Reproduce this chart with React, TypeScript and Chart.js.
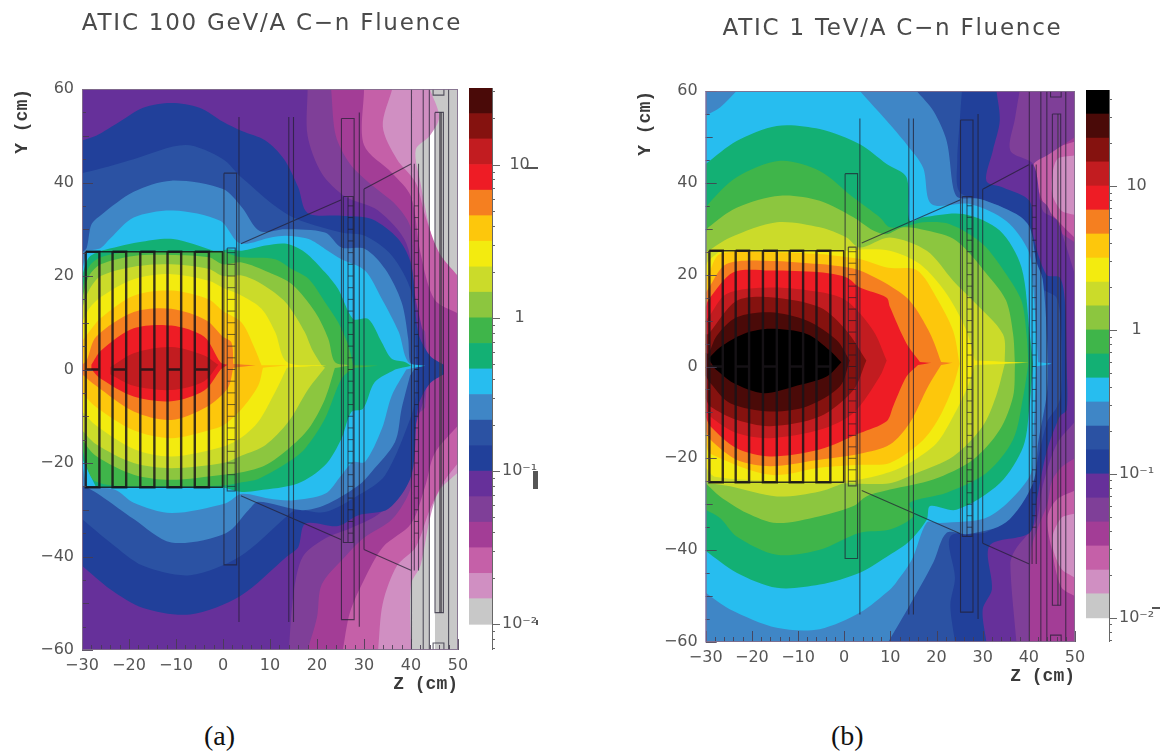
import React, { useEffect, useRef } from "react";
import Chart from "chart.js/auto";

// Colour bands of the fluence scale, from the highest band to the lowest
const bandColors = ["#000000","#4a0a08","#85120f","#c21c20","#ee1c25","#f57f20","#fdc70c","#f3eb0f","#cbdb2a","#8cc63f","#3fb54a","#13b074","#27bdef","#3f86c6","#2b52a3","#21409a","#66309a","#7f3f98","#a33d96","#c560a8","#d08fc2","#c8c8c8"];
const bandEdgesA = [0.01,0.0147,0.0215,0.0316,0.0464,0.0681,0.1,0.147,0.215,0.316,0.464,0.681,1,1.47,2.15,3.16,4.64,6.81,10,14.7,21.5,31.6];
const bandEdgesB = [0.01,0.0147,0.0215,0.0316,0.0464,0.0681,0.1,0.147,0.215,0.316,0.464,0.681,1,1.47,2.15,3.16,4.64,6.81,10,14.7,21.5,31.6,46.4];
const colorbarTicks = [0.007,0.008,0.009,0.01,0.02,0.03,0.04,0.05,0.06,0.07,0.08,0.09,0.1,0.2,0.3,0.4,0.5,0.6,0.7,0.8,0.9,1,2,3,4,5,6,7,8,9,10,20,30,40];
const colorbarLabels: Record<string,string> = { "0.01":"10\u207B\u00B2", "0.1":"10\u207B\u00B9", "1":"1", "10":"10" };

// Panel (a): contour outline [z, y] in cm of each colour band
const aBase = [[-30,60],[50,60],[50,-60],[-30,-60]];
const aWhite1 = [[44,52],[45.1,52],[45.1,24],[44,24]];
const aWhite2 = [[44,-26],[45.1,-26],[45.1,-60],[44,-60]];
const a20 = [[-30,60],[44,60],[46,54],[44,50],[41,47],[42,40],[44,30],[46,22],[50,20],[50,-22],[46,-26],[44,-32],[42,-42],[40,-46],[40,-60],[-30,-60]];
const a19 = [[-30,60],[36,60],[34,52],[37,45],[41,40],[43,33],[46,25],[50,20],[50,-20],[47,-24],[44,-30],[41,-38],[37,-42],[34,-50],[33,-60],[-30,-60]];
const a18 = [[-30,60],[30,60],[30,48],[36,42],[40,37],[42,25],[45,15],[50,12],[50,-12],[45,-18],[43,-25],[40,-33],[34,-38],[30,-45],[27,-52],[25.5,-60],[-30,-60]];
const a17 = [[-30,60],[23,60],[24,50],[27,44],[31,40],[37,35],[40,30],[41,10],[43,8],[43,-8],[41,-10],[40,-25],[36,-32],[30,-36],[26,-40],[21,-46],[20,-53],[18,-60],[-30,-60]];
const a16 = [[-30,60],[18,60],[18,50],[21,42],[26,37],[33,34],[39,27],[41,15],[43,5],[43,-5],[41,-12],[39,-25],[33,-31],[27,-34],[22,-36],[17,-40],[15,-48],[14,-60],[-30,-60]];
const a15 = [[-30,49],[-27,50],[-22,53],[-17,56],[-11,57],[-5,56],[0,53],[4,51],[9,49],[13,45],[16,39],[18,33.5],[25.2,32.9],[31.6,32.2],[37.3,27.9],[40.1,22.2],[41.5,8],[44,3],[47,1],[47,-1],[44,-3],[41.5,-8],[40.1,-22.6],[35.2,-29.8],[28.8,-31.2],[24.5,-33.5],[17.5,-33],[16,-38],[13.6,-40],[3.6,-48.5],[-7,-52.4],[-17,-51],[-24,-47],[-30,-42]];
const a14 = [[-30,42],[-26,43],[-19,45],[-8,48],[0,45],[4,41],[14,33],[25.2,29.3],[30.2,28.6],[35.9,24.4],[40.1,16.5],[41,5],[41,-5],[40.1,-9.8],[34.5,-22.6],[28.8,-26.9],[21.7,-30.5],[15.7,-30],[13.6,-31.4],[3.6,-40],[-7,-44],[-17,-42],[-24,-37],[-30,-32]];
const a13 = [[-30,25],[-29,26],[-28,31],[-26,33],[-19,38],[-11,40.4],[0,38.6],[4,34.7],[7.8,29.6],[13.2,30],[21.7,29.3],[25.2,26.1],[30.2,25.8],[34.5,21.5],[38,14.4],[39.4,6.6],[39.8,1.6],[41,0.6],[39.8,-1.3],[38,-8.4],[36.6,-15.5],[31.6,-21.9],[28.8,-24.8],[21.7,-29],[16.8,-30.1],[7.5,-28.3],[5.5,-30],[0.6,-35],[-11,-37],[-19,-32],[-26,-27],[-29,-25.2],[-30,-25]];
const a12 = [[-30,21],[-29,25.4],[-26,26],[-24,28],[-19,32.5],[-10.6,34],[-0.6,31.8],[3.6,27],[10.4,28.3],[13.5,28.6],[18.2,27.9],[21.7,25.8],[25.2,23.6],[30.2,21.2],[33.8,15.1],[37.4,8],[39.4,1.6],[43,0.8],[39,0],[35.9,-5.6],[33.8,-12.7],[30.2,-19.8],[27.7,-19.8],[25.2,-22.6],[21.7,-26.6],[14.6,-28],[9.7,-27.6],[4,-26.6],[0.6,-28.6],[-11,-30.7],[-19,-28.5],[-23,-25.7],[-29,-25.2],[-30,-20]];
const a11 = [[-30,20],[-28.5,24],[-26,25.4],[-18,27.2],[-10.6,27.9],[-2,25.4],[0,25.4],[1,25.7],[4,25.4],[9,26.5],[13.5,26.9],[17.4,25.1],[21.7,20.8],[24.5,17.2],[27.7,10.8],[30.9,10.8],[33.8,5.8],[35.9,2.3],[38.7,1.6],[40,0.8],[36.6,0],[32.3,-2.7],[29.8,-8.4],[27.3,-9.1],[25.2,-14.8],[21.7,-20.5],[15.9,-24.4],[7.5,-25.9],[4,-26.2],[0,-25.2],[-27,-25.2],[-30,-19]];
const a10 = [[-30,17],[-28.5,22],[-26,24],[-20,25.3],[0,25.3],[2,24.5],[4,24],[11.1,23.6],[14.6,21.5],[18.2,19.4],[21.7,14.4],[24.5,10.1],[26.7,5.1],[27.7,0.9],[33,0.8],[27.7,0.3],[25.2,-2],[21.7,-10.5],[17.4,-17],[13.9,-19.8],[7.5,-23.4],[4,-24.1],[0,-24.8],[-11,-25],[-27,-24],[-30,-17]];
const a9 = [[-30,15],[-28.5,20],[-26,22.5],[-19,24.3],[-11,24.5],[-3,24],[0,22.5],[4,22.9],[9.7,20.8],[14.6,18.3],[19.6,12.3],[22.4,6.6],[23.8,1.6],[27,0.9],[23.8,0.3],[21.7,-6.3],[18.2,-12.7],[13.9,-17],[9,-20.5],[4,-22],[0,-22.5],[-11,-23.6],[-19,-22.5],[-27,-18.5],[-30,-15]];
const a8 = [[-30,13],[-28.5,17],[-26,20],[-19,22],[-11,22.5],[-3,21.5],[0,20],[4,20.1],[7.5,18.7],[11.8,15.8],[13.9,13.7],[17.4,8],[18.9,4.4],[21,0.9],[21.7,0.4],[18.2,-4.1],[13.9,-11.2],[9,-16.2],[4,-18.4],[0,-20],[-11,-21.1],[-19,-20],[-27,-16],[-30,-13]];
const a7 = [[-30,10],[-28.5,13],[-26,15.5],[-19,19.3],[-11,20.4],[-3,19],[0,17.5],[4,15.8],[8.2,13],[11.1,8],[13.6,1.6],[22,0.9],[13.6,0.4],[11.1,-4.8],[7.5,-11.2],[4,-14.5],[0,-16.5],[-11,-18.6],[-19,-17],[-27,-12],[-30,-9]];
const a6 = [[-30,6],[-28.5,8],[-26,11],[-19,15.8],[-11,16.9],[-3,15],[0,12.5],[4,10],[6.8,4.4],[8.2,0.9],[14,0.9],[8.5,0.4],[7.5,-3.4],[4,-8.4],[0,-12],[-3,-13],[-11,-14.7],[-19,-13],[-27,-8],[-30,-5]];
const a5 = [[-30,1],[-29,2],[-27,7],[-19,12.3],[-11,13],[-3.5,10.5],[0,7],[1.8,5.8],[2.2,1.2],[7,0.9],[2.2,0.4],[1,-4],[-3.5,-8],[-11,-10.8],[-19,-9],[-27,-3.5],[-30,-1]];
const a4 = [[-28,1],[-26,4],[-19,8.8],[-11,9.4],[-4,7],[-0.5,1.5],[1,1],[-0.5,0],[-4,-4.5],[-11,-6.8],[-19,-5.8],[-26,-2],[-28,0]];
const a3 = [[-24,0.5],[-19,3.5],[-11,4.8],[-4,3],[-1,1],[-4,-2.5],[-11,-4.4],[-19,-3.5],[-24,-1]];

// Panel (b): contour outline [z, y] in cm of each colour band
const bBase = [[-30,60],[50,60],[50,-60],[-30,-60]];
const b19 = [[-30,60],[50,60],[50,46],[46,45],[45,38],[47,34],[50,33],[50,-32],[47,-33],[45,-38],[47,-44],[50,-46],[50,-60],[-30,-60]];
const b18 = [[-30,60],[50,60],[50,49],[44,47],[41,45],[43,36],[47,31],[50,28],[50,-27],[46,-29],[44,-33],[45,-40],[47,-48],[50,-50],[50,-60],[-30,-60]];
const b17 = [[-30,60],[50,60],[50,50],[44,46],[41,44],[40.5,38],[44,35],[46,30],[50,27],[50,-20],[47,-22],[45,-25],[44,-30],[42,-35],[40.5,-40],[40,-60],[-30,-60]];
const b16 = [[-30,60],[38,60],[37,54],[36,47],[41,44],[43,34],[46,32],[47.5,28],[50,20],[50,-12],[46,-17],[43,-26],[41.5,-34],[37,-40],[36,-43],[37.3,-60],[-30,-60]];
const b15 = [[-30,60],[33,60],[33.7,53.5],[32.2,47],[30.8,40.4],[34.4,39],[40.2,36],[40.9,28.8],[43.8,20],[46.7,19.4],[47.8,14.3],[48.2,0.6],[48.2,-9.4],[46.7,-10.9],[43.8,-18.8],[41.6,-29.7],[40.2,-36.2],[31.5,-39],[32,-48.5],[30,-52.9],[30.8,-60],[-30,-60]];
const b14 = [[-30,60],[25.5,60],[25,53],[24.5,45],[25,38],[31,36],[37,33],[40,28],[41,24],[43,17],[46,15],[47,8],[47,-6],[46,-9],[44,-12],[41,-24],[39,-29],[31,-36],[23,-37],[24,-46],[23,-52],[24,-60],[-30,-60]];
const b13 = [[-30,60],[15.7,60],[19.3,55.7],[22.2,49.1],[23.6,39],[24.7,36.8],[29.4,36.5],[37.3,33.2],[40.2,30.3],[41.6,23],[43,19],[44,5],[44,-5],[42,-16.7],[40.9,-25.4],[35,-34],[27,-36.5],[22.2,-36.2],[19.3,-42.7],[14.2,-52],[9.9,-59.4],[9.5,-60],[-30,-60]];
const b12 = [[-30,54.6],[-26.9,56.4],[-23.3,60],[3.4,60],[9.2,53.5],[13.5,48.4],[17.1,43.3],[18.9,35.4],[27.2,35.4],[35.1,31.7],[39.9,25.2],[40.9,18],[41.6,7],[42,0.9],[45,0.6],[41.6,0],[40.9,-16.7],[40.2,-23.9],[31.5,-32.6],[20.7,-34.1],[17.9,-34],[14.7,-42],[11.3,-47],[9.9,-48.6],[3.4,-53.6],[-5.3,-57.2],[-14.6,-56.9],[-24.7,-52.9],[-30,-49.3]];
const b11 = [[-30,44.1],[-23.3,49.1],[-14.6,52.4],[-5.3,51.7],[3.4,48.4],[9.2,44.1],[13.5,41.2],[14.2,31.7],[17.1,32.5],[25.8,33.2],[33.7,29.6],[38.4,21.6],[40.2,7],[40.9,0.6],[40.2,-8],[38.8,-17.4],[33.7,-25.4],[24.3,-31.2],[18.6,-30.4],[17.9,-33.3],[14.2,-38],[9.9,-41],[3.4,-44.9],[-5.3,-47.5],[-14.6,-48.2],[-23.3,-44.9],[-30,-40.2]];
const b10 = [[-30,34],[-29.4,35.4],[-23.3,41.2],[-13.9,44.8],[-5.3,42.6],[2,36.8],[7.7,32.5],[9.9,30.3],[13.9,30.7],[17,31.4],[22.9,31],[30,26.7],[35.1,20.1],[38.4,14.3],[39.5,7],[39.9,0.6],[38.8,-6.5],[36.6,-15.9],[30.8,-23.2],[22.2,-27.5],[14.2,-29.7],[15,-32.6],[9.9,-35.5],[3.4,-36.2],[-5.3,-39.9],[-14.6,-41],[-23.3,-37],[-26.9,-33],[-30,-31.2]];
const b9 = [[-30,29],[-29.4,30.3],[-23.3,34.6],[-13.9,37.2],[-5.3,36.1],[2,32.5],[6.3,29.6],[9.2,28.8],[12.8,30.3],[17.9,29.6],[24.3,27.4],[31.5,19.4],[35.1,14.3],[36.6,7],[37,0.6],[36.6,-6.5],[33.7,-13.8],[27.9,-20.3],[19.3,-24.6],[9.9,-26.8],[4.8,-28.3],[2,-30.4],[-5.3,-32.6],[-14.6,-34.1],[-21.1,-31.9],[-26.9,-28.3],[-30,-25.4]];
const b8 = [[-30,25],[-29.4,25.2],[-24.7,28.1],[-14.6,31.4],[-5.3,30.3],[0.5,28.1],[3.4,25.9],[9.9,28.1],[17.9,25.2],[23.6,18.7],[27.9,14.3],[34.4,7],[34.8,0.6],[32.9,-6.5],[30,-13],[23.6,-19.6],[15.7,-23.2],[9.9,-25.4],[-0.2,-25.4],[-5.3,-27.2],[-14.6,-28.3],[-24.7,-26.1],[-29,-25.4],[-30,-25]];
const b7 = [[-30,22],[-29.4,23],[-26.9,25.2],[0.5,25.2],[3.4,25.5],[9.9,25.2],[16.4,22.3],[22.2,15.8],[26.5,7.8],[28.3,1.3],[40,0.8],[28.3,0.3],[26.8,-4.3],[23.6,-10.9],[20,-16.7],[14.2,-21],[9.9,-23],[3.4,-24.6],[-5.3,-25],[-14.6,-25],[-28,-24],[-30,-22]];
const b6 = [[-30,19],[-29.4,20.1],[-26.9,24.5],[-16,24.9],[-5.3,24.5],[0.5,23.8],[3.4,23.4],[9.5,21.5],[15.7,21],[20,15],[23.6,7.8],[25,0.6],[23.6,-4.3],[20.7,-10.9],[17.1,-16],[9.9,-21],[3.4,-21.4],[-5,-22],[-16,-23.6],[-29,-19],[-30,-17]];
const b5 = [[-30,16],[-29.4,17],[-25.5,22.3],[-16,23],[-5.3,22.3],[0.5,21.6],[3.4,20.9],[9.2,18],[14.2,14.3],[18.6,7.2],[21,1],[23.5,0.8],[21,0.3],[18.2,-4.3],[14.2,-12.3],[9.9,-17],[3.4,-19],[-5.3,-20.3],[-16,-21.7],[-23.3,-20.3],[-29,-15.9],[-30,-14]];
const b4 = [[-30,13],[-29.4,14.5],[-24,20.5],[-16,20.9],[-5.3,20.5],[0.5,19.4],[3.4,17.2],[9.2,15],[9.9,13],[13.5,5],[16.4,1],[18.9,0.8],[16,0.3],[13.5,-2.2],[10.6,-8.7],[9.2,-11.9],[3.4,-14.5],[-5.3,-18.1],[-16,-19.6],[-23.3,-17.8],[-29,-13],[-30,-11]];
const b3 = [[-30,10],[-29.4,10.7],[-25.5,15.8],[-16,17.2],[-5.3,16.2],[0.5,14.3],[6.3,7.8],[9.2,1.3],[7.7,-2.2],[2,-10.1],[-5.3,-13.8],[-16,-15.6],[-23.3,-14.5],[-29,-10.9],[-30,-9]];
const b2 = [[-30,7],[-29.4,7.1],[-23.3,14.3],[-16,15.1],[-5.3,12.9],[0.5,7.8],[4.8,1.3],[2,-5.1],[-5.3,-10.9],[-16,-13],[-23.3,-11.6],[-29,-8.7],[-30,-7]];
const b1 = [[-30,3],[-29.4,2.8],[-27.6,6.7],[-23.3,10.7],[-16,11.8],[-8.1,10],[-1.6,5.7],[1.2,1.3],[-0.9,-4.3],[-8.1,-8.7],[-16,-9.8],[-24.7,-8],[-29,-3.6],[-30,-2]];
const b0 = [[-29.4,1.7],[-26.9,4.2],[-21.8,7.1],[-16,8.2],[-8.1,7.1],[-3.1,3.5],[-0.6,0.9],[-3.8,-2.2],[-11,-4.4],[-17.5,-5.8],[-24,-3.6],[-28,-0.5]];

// Paint order is outermost first; the number is the index into bandColors
const layersA: [number, number[][]][] = [[21,aBase],[-1,aWhite1],[-1,aWhite2],[20,a20],[19,a19],[18,a18],[17,a17],[16,a16],[15,a15],[14,a14],[13,a13],[12,a12],[11,a11],[10,a10],[9,a9],[8,a8],[7,a7],[6,a6],[5,a5],[4,a4],[3,a3]];
const layersB: [number, number[][]][] = [[20,bBase],[19,b19],[18,b18],[17,b17],[16,b16],[15,b15],[14,b14],[13,b13],[12,b12],[11,b11],[10,b10],[9,b9],[8,b8],[7,b7],[6,b6],[5,b5],[4,b4],[3,b3],[2,b2],[1,b1],[0,b0]];

// Detector outline, in cm
const plateZ = [[-29.2,-26.3],[-23.5,-20.6],[-17.6,-14.6],[-11.8,-8.9],[-6,-3]];
const rungY = [-35,-32.5,-30,-27.5,-25,-22.5,-20,-17.5,-15,-12.5,-10,-7.5,-5,-2.5,0,2.5,5,7.5,10,12.5,15,17.5,20,22.5,25,27.5,30,32.5,35];
const thickLines = [[[-29.2,25.2],[0,25.2]],[[-29.2,-25.2],[0,-25.2]],[[-0.1,25.2],[-0.1,-25.2]]];
const thinLines = [
  [[0.2,42],[2.9,42],[2.9,-41.8],[0.2,-41.8],[0.2,42]],
  [[0.9,26],[2.6,26],[2.6,-26],[0.9,-26],[0.9,26]],
  [[3.4,54],[3.4,-54]],
  [[3.8,26.9],[25.2,36.3]],[[3.8,-27],[25.2,-36.4]],
  [[30,38.6],[40.1,44]],[[30,-38.5],[40.1,-43]],
  [[14,54],[14,-54]],[[15,54],[15,-54]],
  [[25.2,53.7],[27.9,53.7],[27.9,-53.5],[25.2,-53.5],[25.2,53.7]],
  [[25.6,37],[26.6,37],[26.6,-37],[25.6,-37],[25.6,37]],
  [[26.6,37],[27.7,37],[27.7,-37],[26.6,-37]],
  [[29,55],[29,-55]],[[30,38.6],[30,-38.5]],
  [[40.1,60],[40.1,-60]],[[40.7,44],[40.7,-43]],[[41.6,44],[41.6,-43]],
  [[42.6,60],[42.6,-60]],[[43.9,60],[43.9,-60]],
  [[45.1,55],[46.9,55],[46.9,-52],[45.1,-52],[45.1,55]],
  [[44.7,60],[44.7,58.7],[47,58.7],[47,60]],[[44.7,-60],[44.7,-58.5],[47,-58.5],[47,-60]],
  [[48,60],[48,-60]],
];
const denseLines = [[[46.3,55],[46.3,-52]]];

const zTicks = { min: -30, max: 50, step: 2, labelEvery: 10 };
const yTicks = { min: -60, max: 60, step: 5, labelEvery: 20 };

const toXY = (p: number[]) => ({ x: p[0], y: p[1] });
// A point on the plot frame, on the calorimeter wall or on the thin axial spike keeps a sharp corner.
const isSharp = (p: number[]) =>
  p[0] === -30 || p[0] === 50 || Math.abs(p[1]) === 60 || Math.abs(p[1]) <= 1.3 ||
  (Math.abs(Math.abs(p[1]) - 25.2) <= 0.2 && p[0] < 1);
function contourPoints(poly: number[][]) {
  const out: { x: number; y: number }[] = [];
  poly.forEach((p) => { out.push(toXY(p)); if (isSharp(p)) out.push(toXY(p)); });
  return out;
}
function flatten(lines: number[][][]) {
  const out: { x: number; y: number }[] = [];
  lines.forEach((l) => { l.forEach((p) => out.push(toXY(p))); out.push({ x: NaN, y: NaN }); });
  return out;
}
function plateLines() {
  const out: number[][][] = [];
  plateZ.forEach(([a, b]) => {
    out.push([[a,25.2],[b,25.2],[b,-25.2],[a,-25.2],[a,25.2]]);
    out.push([[a,0],[b,0]]);
  });
  return out;
}
function rungLines() {
  const out: number[][][] = [];
  rungY.forEach((y) => {
    if (Math.abs(y) <= 25) out.push([[0.9,y],[2.6,y]]);
    out.push([[26.6,y],[27.7,y]]);
    out.push([[40.7,y],[41.6,y]]);
  });
  return out;
}
const minusSign = (n: number) => String(n).replace("-", "\u2212");

const frameTicks = {
  id: "frameTicks",
  afterDatasetsDraw(chart: any) {
    const { ctx, chartArea: a, scales } = chart;
    ctx.save();
    ctx.strokeStyle = "rgba(70,60,80,0.85)";
    ctx.lineWidth = 1;
    scales.x.ticks.forEach((t: any) => {
      const px = Math.round(scales.x.getPixelForValue(t.value)) + 0.5;
      const len = t.value % zTicks.labelEvery === 0 ? 11 : 5;
      ctx.beginPath(); ctx.moveTo(px, a.bottom); ctx.lineTo(px, a.bottom - len); ctx.stroke();
    });
    scales.y.ticks.forEach((t: any) => {
      const py = Math.round(scales.y.getPixelForValue(t.value)) + 0.5;
      const len = t.value % yTicks.labelEvery === 0 ? 11 : t.value % 10 === 0 ? 7 : 4;
      ctx.beginPath(); ctx.moveTo(a.left, py); ctx.lineTo(a.left + len, py); ctx.stroke();
    });
    ctx.strokeStyle = "rgba(130,110,140,0.9)";
    ctx.strokeRect(a.left + 0.5, a.top + 0.5, a.right - a.left - 1, a.bottom - a.top - 1);
    ctx.restore();
  },
};

// The title of the reference is set wide: only the title gets extra letter spacing.
const spacedTitle = {
  id: "spacedTitle",
  beforeDraw(chart: any) {
    const block = chart.titleBlock;
    if (!block || block.__spaced) return;
    const draw = block.draw;
    block.__spaced = true;
    block.draw = function (...args: any[]) {
      chart.ctx.letterSpacing = "1.75px";
      draw.apply(this, args);
      chart.ctx.letterSpacing = "0px";
    };
  },
};

const colorbarTickMarks = {
  id: "colorbarTickMarks",
  afterDatasetsDraw(chart: any) {
    const { ctx, chartArea: a, scales } = chart;
    ctx.save();
    ctx.strokeStyle = "#666";
    ctx.lineWidth = 1;
    ctx.beginPath(); ctx.moveTo(a.right + 0.5, a.top); ctx.lineTo(a.right + 0.5, a.bottom); ctx.stroke();
    scales.y.ticks.forEach((t: any) => {
      const py = Math.round(scales.y.getPixelForValue(t.value)) + 0.5;
      const len = colorbarLabels[String(t.value)] ? 8 : 3;
      ctx.beginPath(); ctx.moveTo(a.right, py); ctx.lineTo(a.right + len, py); ctx.stroke();
    });
    ctx.restore();
  },
};

const tickFont = { family: "'DejaVu Sans'", size: 16 };
const axisFont = { family: "'Liberation Mono'", size: 18, weight: "bold" as const };

function makePanel(canvas: HTMLCanvasElement, cfg: any) {
  const lineSets = [
    { data: flatten(plateLines()), borderColor: "rgba(25,20,25,0.85)", borderWidth: 2.4 },
    { data: flatten(thickLines), borderColor: "rgba(25,20,25,0.85)", borderWidth: 1.6 },
    { data: flatten(thinLines), borderColor: "rgba(35,30,50,0.72)", borderWidth: 1.1 },
    { data: flatten(rungLines()), borderColor: "rgba(25,25,35,0.7)", borderWidth: 0.9 },
    { data: flatten(denseLines), borderColor: "rgba(60,55,65,0.7)", borderWidth: cfg.denseWidth },
  ].map((d) => ({ ...d, showLine: true, pointRadius: 0, fill: false, spanGaps: false, tension: 0 }));
  const fills = [...cfg.layers].reverse().map(([band, poly]: [number, number[][]]) => ({
    data: band < 0 ? poly.map(toXY) : contourPoints(poly),
    showLine: true,
    fill: "shape",
    backgroundColor: band < 0 ? "#ffffff" : bandColors[band],
    borderWidth: 0,
    pointRadius: 0,
    tension: poly.length > 4 ? 0.3 : 0,
  }));
  return new Chart(canvas, {
    type: "scatter",
    data: { datasets: [...lineSets, ...fills] as any },
    plugins: [frameTicks, spacedTitle],
    options: {
      animation: false,
      responsive: false,
      devicePixelRatio: 1,
      events: [],
      plugins: {
        legend: { display: false },
        tooltip: { enabled: false },
        title: {
          display: true,
          text: cfg.title,
          color: "#4a4a4a",
          font: { family: "'DejaVu Sans'", size: 23, weight: "normal" },
          padding: cfg.titlePadding,
        },
      },
      scales: {
        x: {
          type: "linear", min: zTicks.min, max: zTicks.max,
          grid: { display: false, drawTicks: false },
          border: { display: false },
          afterFit: (s: any) => { s.height = cfg.xAxisHeight; },
          title: { display: true, text: "Z (cm)", align: "end", color: "#3a3a3a", font: axisFont, padding: cfg.xTitlePadding },
          ticks: {
            stepSize: zTicks.step, autoSkip: false, maxRotation: 0, color: "#555", font: tickFont, padding: 6,
            callback: (v: any) => (v % zTicks.labelEvery === 0 ? minusSign(v) : ""),
          },
        },
        y: {
          type: "linear", min: yTicks.min, max: yTicks.max,
          grid: { display: false, drawTicks: false },
          border: { display: false },
          afterFit: (s: any) => { s.width = cfg.yAxisWidth; },
          title: { display: true, text: "Y (cm)", align: "end", color: "#3a3a3a", font: axisFont, padding: cfg.yTitlePadding },
          ticks: {
            stepSize: yTicks.step, autoSkip: false, color: "#555", font: tickFont, padding: 8,
            callback: (v: any) => (v % yTicks.labelEvery === 0 ? minusSign(v) : ""),
          },
        },
        spacer: {
          type: "linear", position: "right",
          grid: { display: false, drawTicks: false },
          border: { display: false },
          ticks: { display: false },
          afterFit: (s: any) => { s.width = cfg.rightGap; },
        },
      },
    } as any,
  });
}

function makeColorbar(canvas: HTMLCanvasElement, cfg: any) {
  const edges: number[] = cfg.edges;
  const count = edges.length - 1;
  const datasets = edges.slice(0, count).map((lo, i) => ({
    data: [[lo, edges[i + 1]]],
    backgroundColor: bandColors[bandColors.length - 1 - i],
    borderWidth: 0,
    barPercentage: 1,
    categoryPercentage: 1,
    grouped: false,
  }));
  return new Chart(canvas, {
    type: "bar",
    data: { labels: ["fluence"], datasets: datasets as any },
    plugins: [colorbarTickMarks],
    options: {
      animation: false,
      responsive: false,
      devicePixelRatio: 1,
      events: [],
      layout: { padding: { top: 8, bottom: 8, left: 0, right: 0 } },
      plugins: { legend: { display: false }, tooltip: { enabled: false } },
      scales: {
        x: { display: false, grid: { display: false } },
        y: {
          type: "logarithmic", position: "right", min: 0.0068, max: cfg.max,
          grid: { display: false, drawTicks: false },
          border: { display: false },
          afterBuildTicks: (s: any) => { s.ticks = colorbarTicks.filter((v) => v <= cfg.max).map((value) => ({ value })); },
          afterFit: (s: any) => { s.width = cfg.axisWidth; s.paddingTop = 0; s.paddingBottom = 0; },
          ticks: {
            autoSkip: false, color: "#555", font: tickFont, padding: 10, crossAlign: "center",
            callback: (v: any) => colorbarLabels[String(v)] ?? "",
          },
        },
      },
    } as any,
  });
}

const abs = (left: number, top: number): React.CSSProperties => ({ position: "absolute", left, top });
const captionStyle = (left: number): React.CSSProperties => ({
  position: "absolute", left, top: 719, fontFamily: "'Liberation Serif'", fontSize: 28, lineHeight: "34px", color: "#111",
});
const specks = [
  [525, 167, 13, 2], [533, 471, 5, 18], [536, 620, 2, 5], [1152, 607, 8, 2],
];

export default function App() {
  const aRef = useRef<HTMLCanvasElement>(null);
  const bRef = useRef<HTMLCanvasElement>(null);
  const caRef = useRef<HTMLCanvasElement>(null);
  const cbRef = useRef<HTMLCanvasElement>(null);

  useEffect(() => {
    const charts = [
      makePanel(aRef.current!, {
        layers: layersA, title: "ATIC 100 GeV/A C\u2212n Fluence", denseWidth: 3,
        titlePadding: { top: 10, bottom: 51.4 }, xAxisHeight: 50, yAxisWidth: 82, rightGap: 86,
        xTitlePadding: { top: 0, bottom: 5 }, yTitlePadding: { top: 12, bottom: 0 },
      }),
      makePanel(bRef.current!, {
        layers: layersB, title: "ATIC 1 TeV/A C\u2212n Fluence", denseWidth: 1.5,
        titlePadding: { top: 15, bottom: 48.4 }, xAxisHeight: 58, yAxisWidth: 75.7, rightGap: 80,
        xTitlePadding: { top: 0, bottom: 13 }, yTitlePadding: { top: 5, bottom: 0 },
      }),
      makeColorbar(caRef.current!, { edges: bandEdgesA, max: 31.6, axisWidth: 57 }),
      makeColorbar(cbRef.current!, { edges: bandEdgesB, max: 46.4, axisWidth: 57 }),
    ];
    return () => charts.forEach((c) => c.destroy());
  }, []);

  return (
    <div style={{ position: "absolute", left: 0, top: 0, width: 1161, height: 752, overflow: "hidden", background: "#fff" }}>
      <canvas ref={aRef} width={544} height={700} style={abs(0, 0)} />
      <canvas ref={bRef} width={525} height={700} style={abs(630, 0)} />
      <canvas ref={caRef} width={80} height={578} style={abs(469, 80)} />
      <canvas ref={cbRef} width={80} height={568} style={abs(1086, 82)} />
      <div style={captionStyle(204)}>(a)</div>
      <div style={captionStyle(831)}>(b)</div>
      {specks.map(([l, t, w, h], i) => (
        <div key={i} style={{ position: "absolute", left: l, top: t, width: w, height: h, background: "#555" }} />
      ))}
    </div>
  );
}
